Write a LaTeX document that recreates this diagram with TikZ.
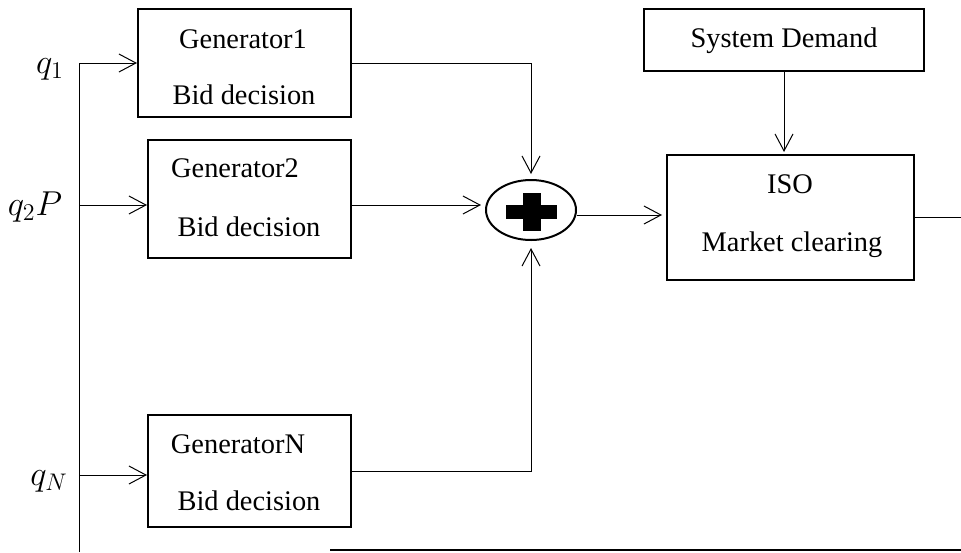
\documentclass[tikz,border=0pt]{standalone}
\usepackage{fontspec}
\setmainfont{Liberation Serif}
\usetikzlibrary{arrows.meta,shapes.geometric}
\tikzset{
blockbox/.style={draw,line width=1pt,inner sep=0pt},
txt/.style={font=\fontsize{14.2}{17}\selectfont,inner sep=0pt,anchor=base},
qlabel/.style={font=\fontsize{17}{20}\selectfont,inner sep=0pt,anchor=base},
arr/.style={line width=0.5pt,-{Straight Barb[length=8.5pt,width=9pt]}}
}
\begin{document}
\begin{tikzpicture}[x=0.5pt,y=-0.5pt]
\useasboundingbox (0,0) rectangle (961,552);
\node[blockbox,minimum width=106.5pt,minimum height=54pt] (gen1) at (244.5,63) {};
\node[blockbox,minimum width=101.5pt,minimum height=59pt] (gen2) at (249.5,199) {};
\node[blockbox,minimum width=101.5pt,minimum height=56pt] (genN) at (249.5,471) {};
\node[blockbox,minimum width=123.5pt,minimum height=62.5pt] (iso) at (790.5,217.5) {};
\node[blockbox,minimum width=140pt,minimum height=31pt] (demand) at (784,40) {};
\node[draw,ellipse,line width=1pt,inner sep=0pt,minimum width=45pt,minimum height=30pt] (adder) at (531,210) {};
\begin{scope}[shift={(adder.center)}]
\fill (-25.5,-5) rectangle (25.5,9);
\fill (-8,-17) rectangle (10,21);
\end{scope}
\node[txt] (g1top) at (243,48) {Generator1};
\node[txt] (g1bot) at (244,104) {Bid decision};
\node[txt] (g2top) at (235,177) {Generator2};
\node[txt] (g2bot) at (249,236) {Bid decision};
\node[txt] (gNtop) at (238,453) {GeneratorN};
\node[txt] (gNbot) at (249,510) {Bid decision};
\node[txt] (isotop) at (790,193) {ISO};
\node[txt] (isobot) at (792,251) {Market clearing};
\node[txt] (demtxt) at (784,47) {System Demand};
\node[qlabel] (q1) at (50,73) {$q_1$};
\node[qlabel] (q2) at (35,215) {$q_2P$};
\node[qlabel] (qN) at (49,485) {$q_N$};
\coordinate (busbot) at (79,552);
\coordinate (g2in) at ([yshift=-3pt]gen2.west);
\coordinate (gNin) at ([yshift=-2pt]genN.west);
\coordinate (g2out) at ([yshift=-3pt]gen2.east);
\coordinate (addout) at ([yshift=-2.5pt]adder.east);
\coordinate (fbend) at (961,550);
\coordinate (fend) at (330,550);
\draw[arr] (busbot) |- (gen1.west);
\draw[arr] (busbot |- g2in) -- (g2in);
\draw[arr] (busbot |- gNin) -- (gNin);
\draw[arr,shorten >=2.5pt] (gen1.east) -| (adder.north);
\draw[arr,shorten >=2pt] (g2out) -- (g2out -| adder.west);
\draw[arr,shorten >=3.5pt] (genN.east) -| (adder.south);
\draw[arr,shorten >=2pt] (addout) -- (addout -| iso.west);
\draw[arr,shorten >=1pt] (demand.south) -- (demand.south |- iso.north);
\draw[line width=0.5pt] (iso.east) -- (iso.east -| fbend);
\draw[line width=0.7pt] (fend) -- (fbend);
\end{tikzpicture}
\end{document}
